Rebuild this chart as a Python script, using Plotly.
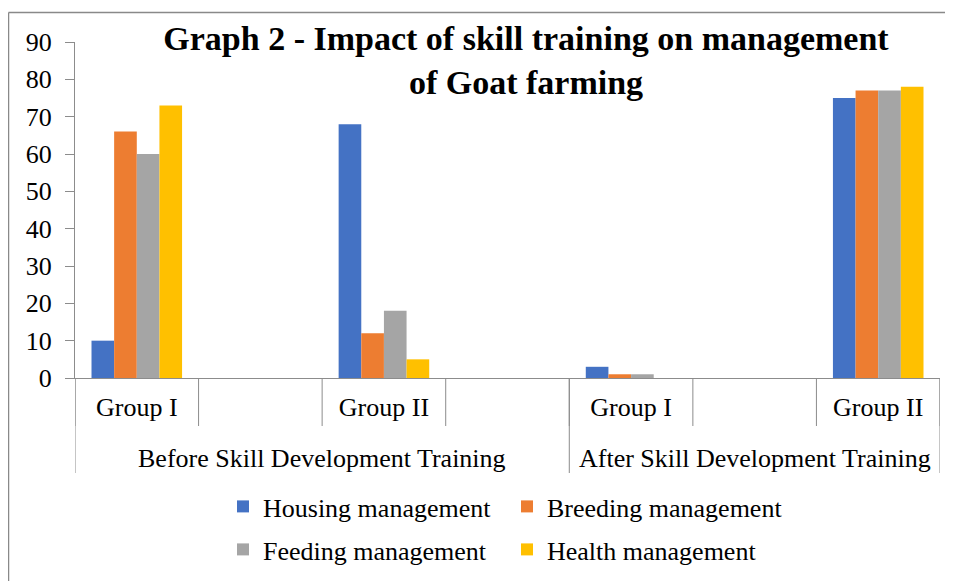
import plotly.graph_objects as go

# ---- data ----
outer_groups = ["Before Skill Development Training", "After Skill Development Training"]
outer_sizes = [4, 3]  # number of category slots under each outer label
categories = ["Group I", "", "Group II", "", "Group I", "", "Group II"]
series_names = ["Housing management", "Breeding management", "Feeding management", "Health management"]
housing = [10, None, 68, None, 3, None, 75]
breeding = [66, None, 12, None, 1, None, 77]
feeding = [60, None, 18, None, 1, None, 77]
health = [73, None, 5, None, 0, None, 78]
colors = ["#4472C4", "#ED7D31", "#A5A5A5", "#FFC000"]
legend_rows = ["legend", "legend", "legend2", "legend2"]
y_ticks = [0, 10, 20, 30, 40, 50, 60, 70, 80, 90]

FONT = "Liberation Serif, Times New Roman, serif"
AX = "#8C8C8C"
# the page body adds an 8px offset; size the figure to fill the rest of the 953x581 window
W, H = 945, 573
ML, MR, MT, MB = 67, 13, 34, 203

x = list(range(len(categories)))
fig = go.Figure()
for name, vals, c, lg in zip(series_names, [housing, breeding, feeding, health], colors, legend_rows):
    fig.add_trace(go.Bar(x=x, y=vals, name=name, legend=lg,
                         marker=dict(color=c, line=dict(width=0))))

plot_h = H - MT - MB
plot_w = W - ML - MR
def py(px_below):  # pixels below the x axis -> paper y
    return -px_below / plot_h

shapes = []
# inner category dividers
for i in range(len(categories) + 1):
    xv = i - 0.5
    shapes.append(dict(type="line", xref="x", yref="paper", x0=xv, x1=xv, y0=0, y1=py(48),
                       line=dict(color=AX, width=1)))
# outer group dividers
pos = -0.5
bounds = [pos]
for s in outer_sizes:
    pos += s
    bounds.append(pos)
for b in bounds:
    shapes.append(dict(type="line", xref="x", yref="paper", x0=b, x1=b, y0=0, y1=py(95),
                       line=dict(color=AX, width=1)))
# chart border (left and top visible)
bx = -(ML - 0.5) / plot_w
by = 1 + (MT - 4.5) / plot_h
shapes.append(dict(type="line", xref="paper", yref="paper", x0=bx, x1=2, y0=by, y1=by,
                   line=dict(color="#898989", width=1.5)))
shapes.append(dict(type="line", xref="paper", yref="paper", x0=bx, x1=bx, y0=by, y1=-2,
                   line=dict(color="#898989", width=1.5)))

annotations = []
for g, b0, b1 in zip(outer_groups, bounds[:-1], bounds[1:]):
    annotations.append(dict(text=g, x=(b0 + b1) / 2, xref="x", y=py(80), yref="paper",
                            yanchor="middle", showarrow=False,
                            font=dict(family=FONT, size=26, color="#000000")))

legend_common = dict(orientation="h", xanchor="left", xref="container", yanchor="top",
                     yref="container", entrywidth=239, entrywidthmode="pixels",
                     font=dict(family=FONT, size=26, color="#000000"), traceorder="normal")

fig.update_layout(
    width=W, height=H,
    margin=dict(l=ML, r=MR, t=MT, b=MB, autoexpand=False),
    paper_bgcolor="white", plot_bgcolor="white",
    barmode="group", bargap=0.267, bargroupgap=0,
    title=dict(text="<b>Graph 2 - Impact of skill training on management<br>of Goat farming</b>",
               x=518 / W, xanchor="center", xref="container",
               y=1 - 42 / H, yanchor="top", yref="container", automargin=False,
               font=dict(family=FONT, size=34, color="#000000")),
    xaxis=dict(range=[-0.5, len(categories) - 0.5], tickvals=x, ticktext=categories,
               showline=True, linecolor=AX, linewidth=1, ticks="", showgrid=False, zeroline=False,
               automargin=False,
               tickfont=dict(family=FONT, size=26, color="#000000"), ticklabelstandoff=6),
    yaxis=dict(range=[0, 90], tickvals=y_ticks, showline=True, linecolor=AX, linewidth=1,
               ticks="outside", ticklen=9, tickcolor=AX, showgrid=False, zeroline=False,
               automargin=False,
               tickfont=dict(family=FONT, size=26, color="#000000"), ticklabelstandoff=8),
    legend=dict(x=215 / W, y=1 - 475 / H, **legend_common),
    legend2=dict(x=215 / W, y=1 - 518 / H, **legend_common),
    shapes=shapes, annotations=annotations,
)

fig.write_html("out.html")
